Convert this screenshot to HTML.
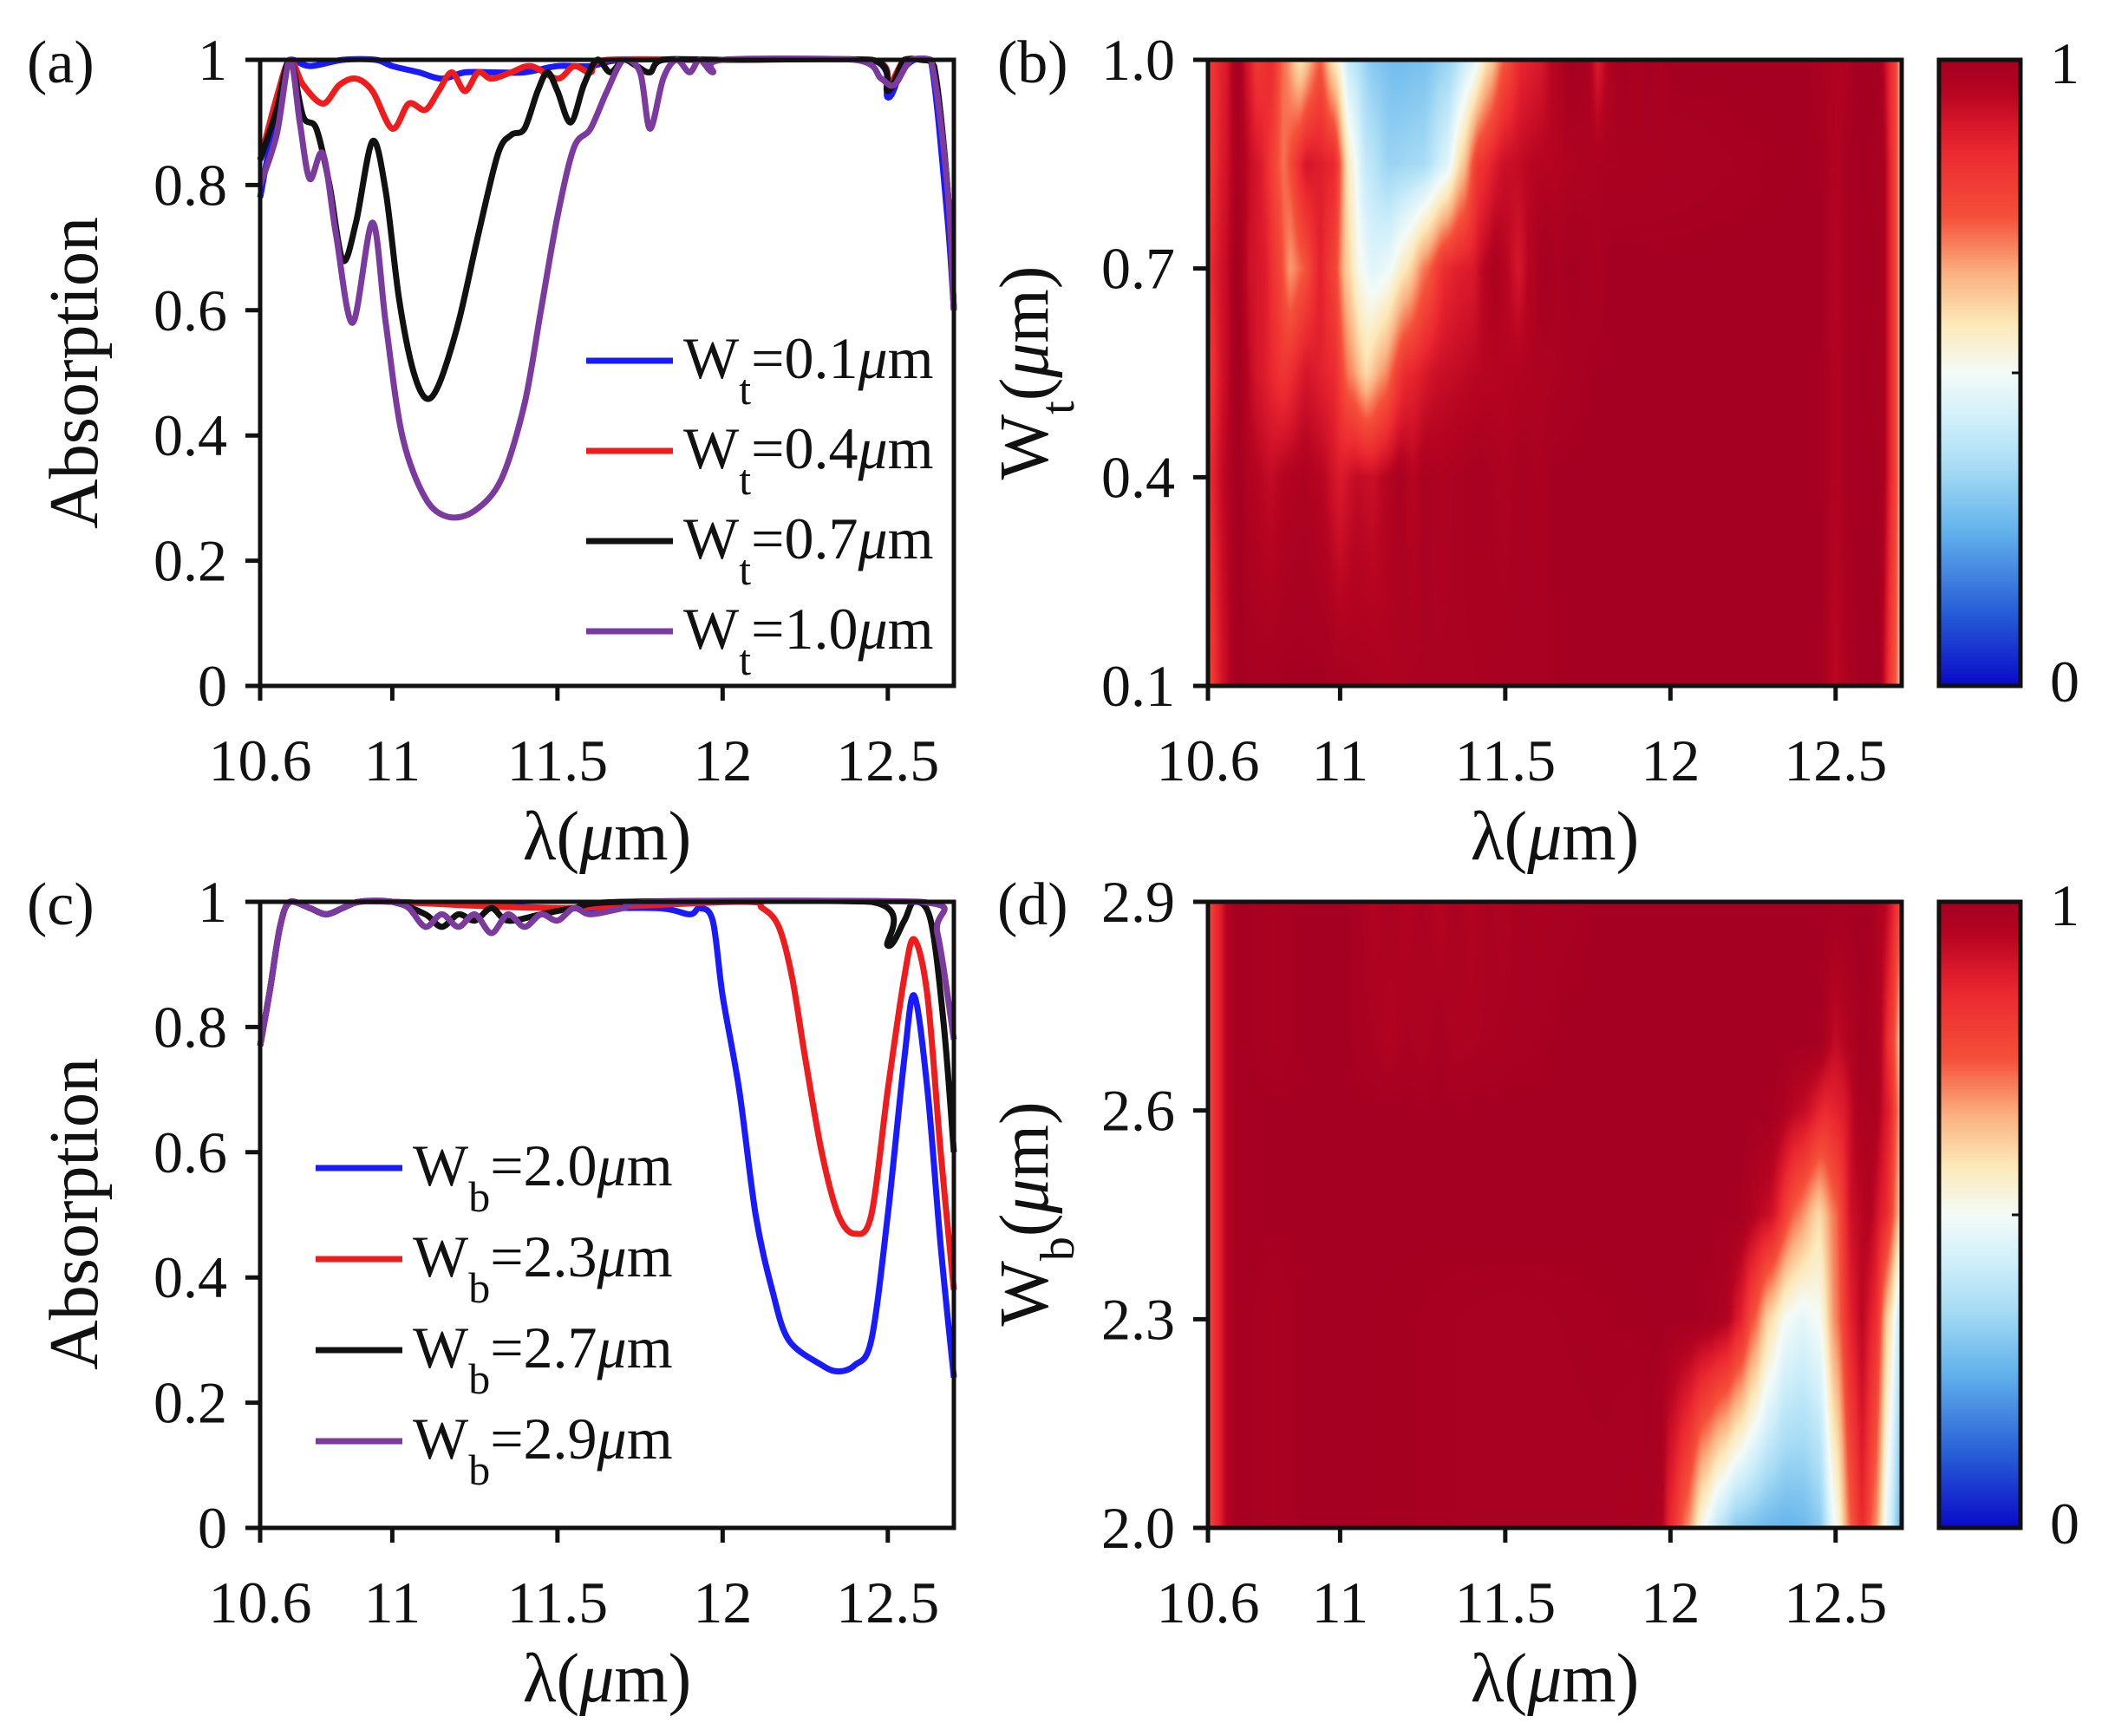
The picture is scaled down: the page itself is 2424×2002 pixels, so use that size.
<!DOCTYPE html>
<html><head><meta charset="utf-8">
<style>
html,body{margin:0;padding:0;background:#fff;}
#wrap{position:relative;width:2424px;height:2002px;overflow:hidden;background:#fff;}
canvas{position:absolute;}
svg{position:absolute;left:0;top:0;}
text{font-family:"Liberation Serif",serif;fill:#111;}
</style></head>
<body>
<div id="wrap">
<canvas id="hb" width="800" height="722" style="left:1393px;top:69px"></canvas>
<canvas id="hd" width="800" height="722" style="left:1393px;top:1040px"></canvas>
<canvas id="cb1" width="94" height="722" style="left:2236px;top:69px"></canvas>
<canvas id="cb2" width="94" height="722" style="left:2236px;top:1040px"></canvas>
<svg id="s" width="2424" height="2002"></svg>
</div>
<script>
// ---------- data: panel (a) ----------
const xTicks = [10.6, 11, 11.5, 12, 12.5];
const xTickLabels = ["10.6", "11", "11.5", "12", "12.5"];
const absTicks = [0, 0.2, 0.4, 0.6, 0.8, 1];
const absTickLabels = ["0", "0.2", "0.4", "0.6", "0.8", "1"];

const a1Lam = [10.6,10.65,10.69,10.75,10.85,10.95,11.0,11.08,11.15,11.22,11.3,11.4,11.5,11.6,11.7,12.0,12.45,12.5,12.54,12.58,12.63,12.68,12.7];
const a1Val = [0.78,0.92,1.0,0.99,1.0,1.0,0.99,0.98,0.97,0.98,0.98,0.98,0.99,0.99,1.0,1.0,1.0,0.94,0.98,1.0,1.0,0.75,0.6];
const a2Lam = [10.6,10.65,10.69,10.73,10.79,10.84,10.89,10.94,11.0,11.05,11.1,11.14,11.18,11.22,11.26,11.3,11.36,11.42,11.5,11.55,11.6,11.65,12.0,12.45,12.5,12.55,12.6,12.64,12.68,12.7];
const a2Val = [0.84,0.94,1.0,0.96,0.93,0.96,0.97,0.95,0.89,0.93,0.92,0.95,0.98,0.95,0.98,0.97,0.98,0.99,0.97,0.99,0.98,1.0,1.0,1.0,0.96,1.0,1.0,0.99,0.8,0.6];
const a3Lam = [10.6,10.65,10.69,10.73,10.77,10.81,10.85,10.89,10.94,10.98,11.02,11.06,11.1,11.14,11.2,11.26,11.32,11.36,11.4,11.44,11.47,11.5,11.54,11.58,11.62,11.66,11.7,11.74,11.78,11.82,12.0,12.45,12.5,12.55,12.6,12.64,12.68,12.7];
const a3Val = [0.84,0.92,1.0,0.91,0.89,0.8,0.68,0.74,0.87,0.79,0.62,0.51,0.46,0.48,0.58,0.72,0.85,0.88,0.89,0.95,0.98,0.95,0.9,0.96,1.0,0.98,1.0,0.99,0.98,1.0,1.0,1.0,0.95,1.0,1.0,0.99,0.8,0.6];
const a4Lam = [10.6,10.65,10.69,10.72,10.75,10.79,10.83,10.88,10.94,10.98,11.03,11.1,11.17,11.25,11.33,11.4,11.45,11.5,11.55,11.6,11.65,11.7,11.75,11.78,11.82,11.86,11.9,11.93,11.97,12.0,12.4,12.48,12.52,12.57,12.63,12.68,12.7];
const a4Val = [0.8,0.88,1.0,0.9,0.81,0.85,0.72,0.58,0.74,0.58,0.4,0.3,0.27,0.28,0.33,0.45,0.6,0.75,0.86,0.89,0.95,1.0,0.98,0.89,0.97,1.0,0.98,1.0,0.98,1.0,1.0,0.97,0.96,1.0,1.0,0.8,0.6];

// ---------- data: panel (c) ----------
const c1Lam = [10.6,10.63,10.66,10.69,10.75,10.8,10.85,10.9,11.0,11.5,11.8,11.9,11.93,11.97,12.0,12.05,12.1,12.15,12.2,12.3,12.35,12.4,12.45,12.5,12.55,12.58,12.62,12.66,12.7];
const c1Val = [0.77,0.86,0.96,1.0,0.99,0.98,0.99,1.0,1.0,0.99,0.99,0.98,0.99,0.97,0.85,0.7,0.5,0.38,0.3,0.26,0.25,0.26,0.3,0.5,0.75,0.85,0.7,0.45,0.24];
const c2Lam = [10.6,10.63,10.66,10.69,10.75,10.8,10.85,10.9,11.0,11.5,12.05,12.12,12.17,12.21,12.25,12.3,12.35,12.4,12.45,12.5,12.55,12.58,12.62,12.66,12.7];
const c2Val = [0.77,0.86,0.96,1.0,0.99,0.98,0.99,1.0,1.0,0.99,1.0,0.99,0.96,0.88,0.75,0.6,0.5,0.47,0.5,0.7,0.88,0.94,0.85,0.6,0.38];
const c3Lam = [10.6,10.63,10.66,10.69,10.75,10.8,10.85,10.9,11.0,11.1,11.15,11.2,11.25,11.3,11.35,11.45,11.55,11.7,12.45,12.5,12.55,12.58,12.63,12.67,12.7];
const c3Val = [0.77,0.86,0.96,1.0,0.99,0.98,0.99,1.0,1.0,0.98,0.96,0.98,0.97,0.99,0.97,0.98,0.99,1.0,1.0,0.93,0.97,1.0,0.97,0.8,0.6];
const c4Lam = [10.6,10.63,10.66,10.69,10.75,10.8,10.85,10.9,11.0,11.05,11.1,11.15,11.2,11.25,11.3,11.35,11.4,11.45,11.5,11.55,11.6,11.7,11.8,12.6,12.65,12.7];
const c4Val = [0.77,0.86,0.96,1.0,0.99,0.98,0.99,1.0,1.0,0.99,0.96,0.98,0.96,0.98,0.95,0.98,0.96,0.98,0.97,0.99,0.98,0.99,1.0,1.0,0.95,0.78];

const b55Lam = [10.6,10.65,10.69,10.75,10.83,10.9,10.98,11.03,11.08,11.13,11.2,11.3,11.45,11.6,11.8,12.45,12.5,12.55,12.64,12.68,12.7];
const b55Val = [0.8,0.92,1.0,0.9,0.82,0.9,0.85,0.7,0.6,0.68,0.85,0.92,0.95,0.97,1.0,1.0,0.96,1.0,0.99,0.8,0.6];
const b85Lam = [10.6,10.65,10.69,10.75,10.83,10.9,10.98,11.03,11.08,11.15,11.25,11.32,11.37,11.42,11.5,11.6,11.8,12.45,12.5,12.55,12.64,12.68,12.7];
const b85Val = [0.8,0.9,0.98,0.9,0.72,0.9,0.86,0.55,0.4,0.33,0.35,0.45,0.62,0.82,0.92,0.95,0.98,1.0,0.96,1.0,0.99,0.8,0.6];
const d245Lam = [10.6,10.63,10.66,10.69,11.0,12.2,12.3,12.38,12.45,12.5,12.55,12.6,12.65,12.7];
const d245Val = [0.77,0.86,0.96,1.0,1.0,1.0,0.92,0.72,0.6,0.72,0.92,0.96,0.86,0.62];
const d26Lam = [10.6,10.63,10.66,10.69,11.0,12.3,12.4,12.47,12.52,12.57,12.62,12.66,12.7];
const d26Val = [0.77,0.86,0.96,1.0,1.0,1.0,0.93,0.85,0.88,0.97,0.98,0.88,0.66];

// ---------- heatmap rows (parameter values) ----------
const bRowsW = [0.1, 0.4, 0.55, 0.7, 0.85, 1.0];
const bTicks = [0.1, 0.4, 0.7, 1.0];
const bTickLabels = ["0.1","0.4","0.7","1.0"];
const dRowsW = [2.0, 2.3, 2.45, 2.6, 2.7, 2.9];
const dTicks = [2.0, 2.3, 2.6, 2.9];
const dTickLabels = ["2.0","2.3","2.6","2.9"];

// ---------- helpers ----------
const NS = "http://www.w3.org/2000/svg";
const svg = document.getElementById('s');
function el(tag, attrs, parent){ const e=document.createElementNS(NS,tag); for(const k in attrs) e.setAttribute(k,attrs[k]); (parent||svg).appendChild(e); return e; }
function txt(x,y,str,size,anchor,name,extra){ const t=el('text',Object.assign({x:x,y:y,'font-size':size,'text-anchor':anchor||'start'},extra||{})); t.textContent=str;   return t; }

function makeAxes(L,T,W,H,xmin,xmax,ymin,ymax){
  return { L,T,W,H, x:v=>L+(v-xmin)/(xmax-xmin)*W, y:v=>T+H-(v-ymin)/(ymax-ymin)*H };
}
function interp(lam,val,x){
  if(x<=lam[0]) return val[0];
  for(let i=1;i<lam.length;i++){ if(x<=lam[i]){ const t=(x-lam[i-1])/(lam[i]-lam[i-1]); const s=t*t*(3-2*t); return val[i-1]+(val[i]-val[i-1])*(0.5*t+0.5*s);} }
  return val[val.length-1];
}
function curvePath(ax,lam,val){
  const p=lam.map((l,i)=>[ax.x(l),ax.y(val[i])]);
  let d="M"+p[0][0].toFixed(1)+","+p[0][1].toFixed(1);
  for(let i=0;i<p.length-1;i++){
    const p0=p[Math.max(0,i-1)],p1=p[i],p2=p[i+1],p3=p[Math.min(p.length-1,i+2)];
    const k=0.16;
    let c1x=p1[0]+(p2[0]-p0[0])*k, c1y=p1[1]+(p2[1]-p0[1])*k;
    let c2x=p2[0]-(p3[0]-p1[0])*k, c2y=p2[1]-(p3[1]-p1[1])*k;
    const top=ax.y(1); c1y=Math.max(c1y,top-2); c2y=Math.max(c2y,top-2);
    d+=" C"+c1x.toFixed(1)+","+c1y.toFixed(1)+" "+c2x.toFixed(1)+","+c2y.toFixed(1)+" "+p2[0].toFixed(1)+","+p2[1].toFixed(1);
  }
  return d;
}
const cmapStops=[[0,[10,10,200]],[0.12,[40,96,216]],[0.25,[100,180,236]],[0.35,[168,220,245]],[0.42,[205,238,250]],[0.5,[244,251,248]],[0.58,[253,232,184]],[0.66,[250,176,128]],[0.75,[245,80,58]],[0.85,[236,42,48]],[0.9,[214,22,42]],[0.95,[182,4,33]],[1,[165,0,33]]];
function cmap(v){ v=Math.max(0,Math.min(1,v)); for(let i=1;i<cmapStops.length;i++){ if(v<=cmapStops[i][0]){ const a=cmapStops[i-1],b=cmapStops[i]; const t=(v-a[0])/(b[0]-a[0]); return a[1].map((c,j)=>Math.round(c+(b[1][j]-c)*t)); } } return cmapStops[cmapStops.length-1][1]; }

function drawLinePanel(ax,series,colors,names){
  const g=el('g',{});
   
  series.forEach((s,i)=>{
    const p=el('path',{d:curvePath(ax,s[0],s[1]),fill:'none',stroke:colors[i],'stroke-width':7,'stroke-linejoin':'round'},g);
    
    
  });
}
function frame(ax,name){
  const r=el('rect',{x:ax.L,y:ax.T,width:ax.W,height:ax.H,fill:'none',stroke:'#111','stroke-width':5});
   
}
function xAxis(ax,ticks,labels,prefix){
  ticks.forEach((t,i)=>{
    const X=ax.x(t);
    const l=el('line',{x1:X,y1:ax.T+ax.H,x2:X,y2:ax.T+ax.H+17,stroke:'#111','stroke-width':5});
     
    txt(X,ax.T+ax.H+109,labels[i],68,'middle',prefix+'-x-tick-label');
  });
}
function yAxis(ax,ticks,labels,prefix){
  ticks.forEach((t,i)=>{
    const Y=ax.y(t);
    const l=el('line',{x1:ax.L-17,y1:Y,x2:ax.L,y2:Y,stroke:'#111','stroke-width':5});
     
    txt(ax.L-38,Y+23,labels[i],68,'end',prefix+'-y-tick-label');
  });
}
function xTitle(ax,prefix){
  const t=txt(ax.L+ax.W/2,ax.T+ax.H+200,"",80,'middle',prefix+'-x-axis-title');
  t.innerHTML='λ(<tspan font-style="italic">μ</tspan>m)';
}
function legend(x,y0,dy,colors,sub,labels,prefix){
  labels.forEach((lb,i)=>{
    const y=y0+i*dy;
    const l=el('line',{x1:x,y1:y,x2:x+100,y2:y,stroke:colors[i],'stroke-width':7});
     
    const t=txt(x+112,y+20,"",68,'start',prefix+'-legend-entry');
    t.innerHTML='W<tspan dy="30" font-size="50">'+sub+'</tspan><tspan dy="-30">='+lb+'</tspan><tspan font-style="italic">μ</tspan>m';
  });
}
function heat(canvasId,ax,rowsW,rowsSeries,wmin,wmax){
  const c=document.getElementById(canvasId), ctx=c.getContext('2d');
  const img=ctx.createImageData(c.width,c.height);
  for(let px=0;px<c.width;px++){
    const lam=10.6+(px+0.5)/c.width*2.1;
    const col=rowsSeries.map(s=>interp(s[0],s[1],lam));
    for(let py=0;py<c.height;py++){
      const w=wmax-(py+0.5)/c.height*(wmax-wmin);
      let k=0; while(k<rowsW.length-2 && w>rowsW[k+1]) k++;
      const t=Math.max(0,Math.min(1,(w-rowsW[k])/(rowsW[k+1]-rowsW[k])));
      const v=col[k]+(col[k+1]-col[k])*t;
      const rgb=cmap(v); const o=(py*c.width+px)*4;
      img.data[o]=rgb[0]; img.data[o+1]=rgb[1]; img.data[o+2]=rgb[2]; img.data[o+3]=255;
    }
  }
  ctx.putImageData(img,0,0);
}
function colorbar(id,T,prefix){
  const c=document.getElementById(id),ctx=c.getContext('2d');
  for(let py=0;py<c.height;py++){ const rgb=cmap(1-py/(c.height-1)); ctx.fillStyle='rgb('+rgb.join(',')+')'; ctx.fillRect(0,py,c.width,1); }
  const r=el('rect',{x:2236,y:T,width:94,height:722,fill:'none',stroke:'#111','stroke-width':5});
   
  [T,T+361,T+722].forEach(Y=>{ const l=el('line',{x1:2320,y1:Y,x2:2330,y2:Y,stroke:'#111','stroke-width':3});   });
  txt(2364,T+27,"1",68,'start',prefix+'-colorbar-max-label');
  txt(2364,T+740,"0",68,'start',prefix+'-colorbar-min-label');
}

// ---------- panel a ----------
const axA=makeAxes(300,69,800,722,10.6,12.7,0,1);
drawLinePanel(axA,[[a1Lam,a1Val],[a2Lam,a2Val],[a3Lam,a3Val],[a4Lam,a4Val]],['#1a1aff','#ee1c1c','#111','#7a3a9e'],['series-wt-0-1','series-wt-0-4','series-wt-0-7','series-wt-1-0']);
frame(axA,'panel-a-axes'); xAxis(axA,xTicks,xTickLabels,'panel-a'); yAxis(axA,absTicks,absTickLabels,'panel-a'); xTitle(axA,'panel-a');
txt(112,430,"Absorption",80,'middle','panel-a-y-axis-title',{transform:'rotate(-90 112 430)'});
legend(676,416,104,['#1a1aff','#ee1c1c','#111','#7a3a9e'],'t',['0.1','0.4','0.7','1.0'],'panel-a');
txt(31,95,"(a)",70,'start','panel-a-label');

// ---------- panel c ----------
const axC=makeAxes(300,1040,800,722,10.6,12.7,0,1);
drawLinePanel(axC,[[c1Lam,c1Val],[c2Lam,c2Val],[c3Lam,c3Val],[c4Lam,c4Val]],['#1a1aff','#ee1c1c','#111','#7a3a9e'],['series-wb-2-0','series-wb-2-3','series-wb-2-7','series-wb-2-9']);
frame(axC,'panel-c-axes'); xAxis(axC,xTicks,xTickLabels,'panel-c'); yAxis(axC,absTicks,absTickLabels,'panel-c'); xTitle(axC,'panel-c');
txt(112,1400,"Absorption",80,'middle','panel-c-y-axis-title',{transform:'rotate(-90 112 1400)'});
legend(364,1347,105,['#1a1aff','#ee1c1c','#111','#7a3a9e'],'b',['2.0','2.3','2.7','2.9'],'panel-c');
txt(31,1066,"(c)",70,'start','panel-c-label');

// ---------- panel b ----------
const axB=makeAxes(1393,69,800,722,10.6,12.7,0.1,1.0);
heat('hb',axB,bRowsW,[[a1Lam,a1Val],[a2Lam,a2Val],[b55Lam,b55Val],[a3Lam,a3Val],[b85Lam,b85Val],[a4Lam,a4Val]],0.1,1.0);
frame(axB,'panel-b-axes'); xAxis(axB,xTicks,xTickLabels,'panel-b'); yAxis(axB,bTicks,bTickLabels,'panel-b'); xTitle(axB,'panel-b');
(function(){const t=txt(1208,430,"",80,'middle','panel-b-y-axis-title',{transform:'rotate(-90 1208 430)'}); t.innerHTML='W<tspan dy="30" font-size="56">t</tspan><tspan dy="-30">(</tspan><tspan font-style="italic">μ</tspan>m)';})();
colorbar('cb1',69,'panel-b');
txt(1150,95,"(b)",70,'start','panel-b-label');

// ---------- panel d ----------
const axD=makeAxes(1393,1040,800,722,10.6,12.7,2.0,2.9);
heat('hd',axD,dRowsW,[[c1Lam,c1Val],[c2Lam,c2Val],[d245Lam,d245Val],[d26Lam,d26Val],[c3Lam,c3Val],[c4Lam,c4Val]],2.0,2.9);
frame(axD,'panel-d-axes'); xAxis(axD,xTicks,xTickLabels,'panel-d'); yAxis(axD,dTicks,dTickLabels,'panel-d'); xTitle(axD,'panel-d');
(function(){const t=txt(1208,1400,"",80,'middle','panel-d-y-axis-title',{transform:'rotate(-90 1208 1400)'}); t.innerHTML='W<tspan dy="30" font-size="56">b</tspan><tspan dy="-30">(</tspan><tspan font-style="italic">μ</tspan>m)';})();
colorbar('cb2',1040,'panel-d');
txt(1150,1066,"(d)",70,'start','panel-d-label');
</script>
</body></html>
